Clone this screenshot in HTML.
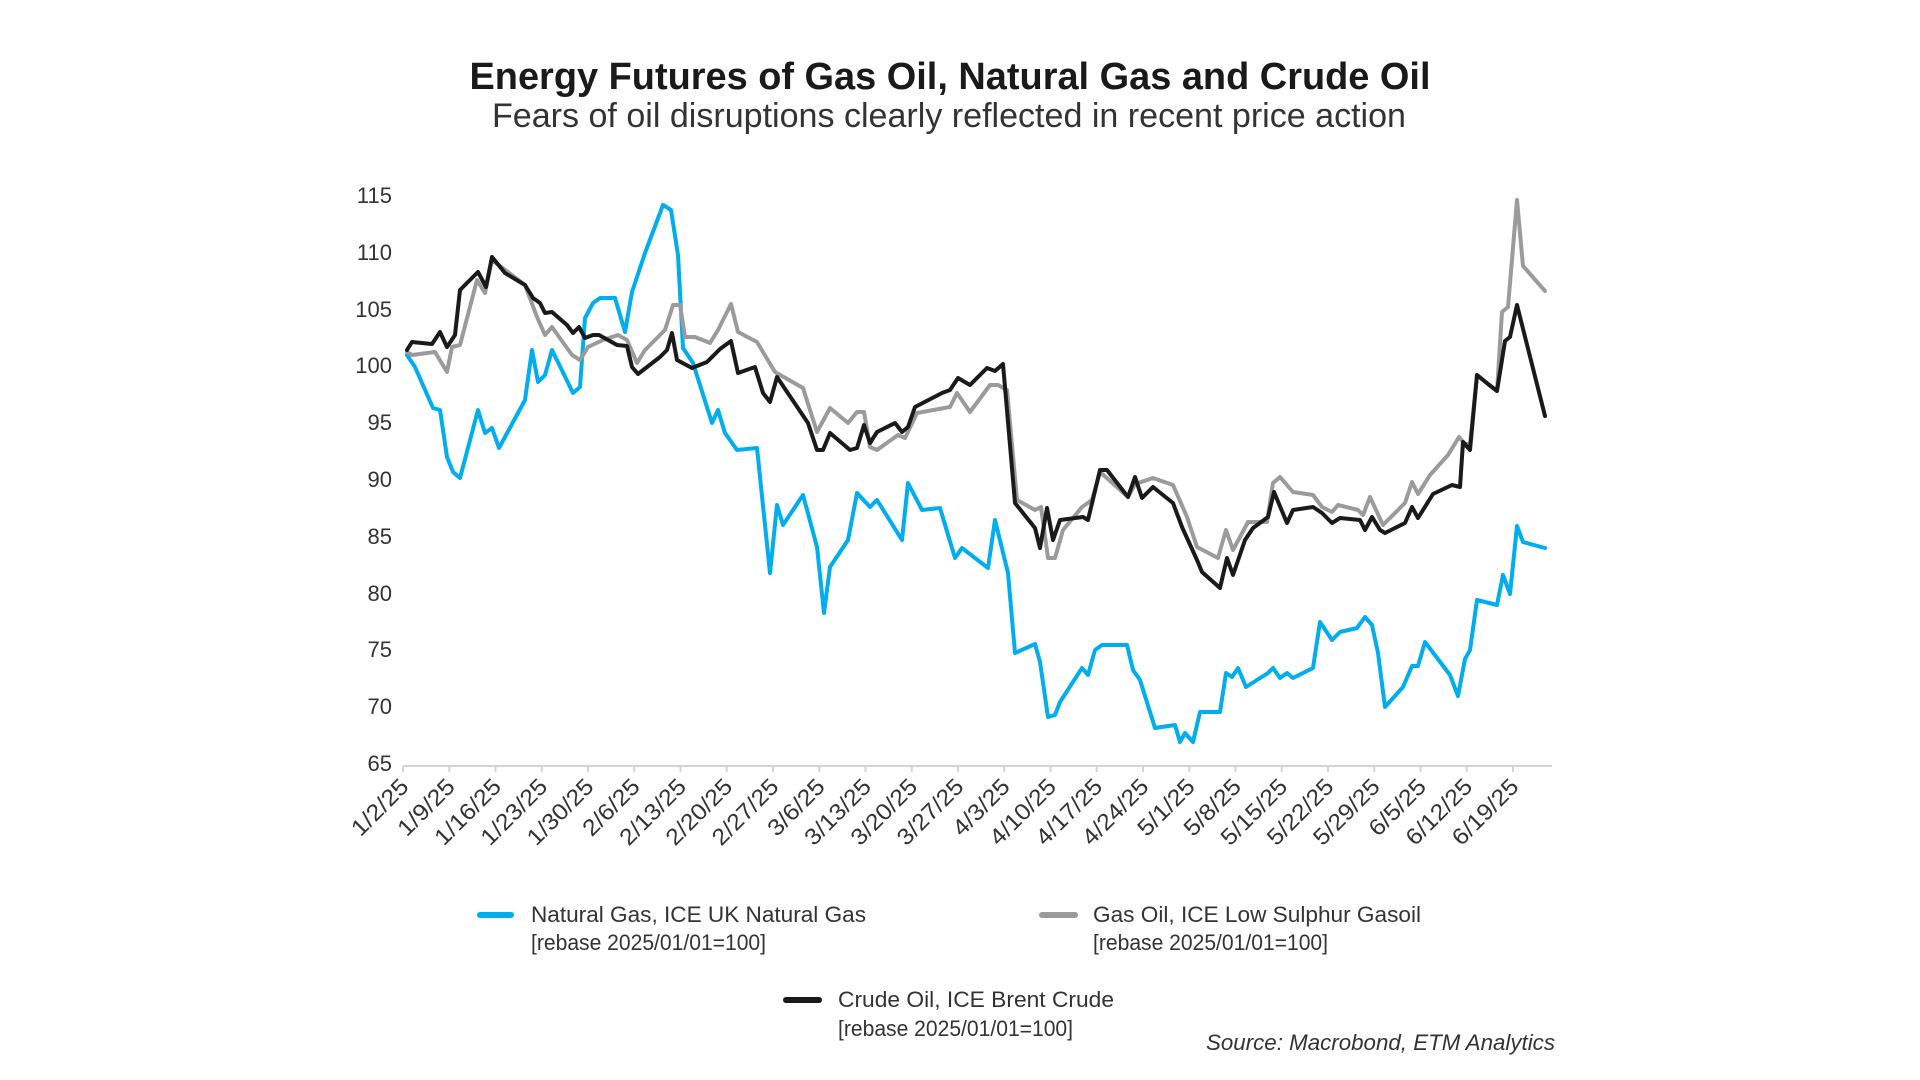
<!DOCTYPE html>
<html>
<head>
<meta charset="utf-8">
<style>
  html,body{margin:0;padding:0;background:#ffffff;}
  svg{display:block;}
  text{font-family:"Liberation Sans", Arial, sans-serif;}
</style>
</head>
<body>
<svg width="1920" height="1080" viewBox="0 0 1920 1080" xmlns="http://www.w3.org/2000/svg">
  <rect x="0" y="0" width="1920" height="1080" fill="#ffffff"/>

  <!-- Title -->
  <text x="950" y="89" text-anchor="middle" font-size="38" font-weight="bold" fill="#1a1a1a" textLength="961" lengthAdjust="spacingAndGlyphs">Energy Futures of Gas Oil, Natural Gas and Crude Oil</text>
  <text x="949" y="127" text-anchor="middle" font-size="34" fill="#333333" textLength="914" lengthAdjust="spacingAndGlyphs">Fears of oil disruptions clearly reflected in recent price action</text>

  <!-- Y axis labels -->
  <g font-size="22" fill="#333333" text-anchor="end">
    <text x="392" y="203">115</text>
    <text x="392" y="260">110</text>
    <text x="392" y="317">105</text>
    <text x="392" y="373">100</text>
    <text x="392" y="430">95</text>
    <text x="392" y="487">90</text>
    <text x="392" y="544">85</text>
    <text x="392" y="601">80</text>
    <text x="392" y="657">75</text>
    <text x="392" y="714">70</text>
    <text x="392" y="771">65</text>
  </g>

  <!-- X axis line and ticks -->
  <line x1="403" y1="766" x2="1552" y2="766" stroke="#d4d4d4" stroke-width="2"/>
  <g stroke="#d4d4d4" stroke-width="2">
    <line x1="403" y1="766" x2="403" y2="772"/>
    <line x1="449.25" y1="766" x2="449.25" y2="772"/>
    <line x1="495.5" y1="766" x2="495.5" y2="772"/>
    <line x1="541.75" y1="766" x2="541.75" y2="772"/>
    <line x1="588" y1="766" x2="588" y2="772"/>
    <line x1="634.25" y1="766" x2="634.25" y2="772"/>
    <line x1="680.5" y1="766" x2="680.5" y2="772"/>
    <line x1="726.75" y1="766" x2="726.75" y2="772"/>
    <line x1="773" y1="766" x2="773" y2="772"/>
    <line x1="819.25" y1="766" x2="819.25" y2="772"/>
    <line x1="865.5" y1="766" x2="865.5" y2="772"/>
    <line x1="911.75" y1="766" x2="911.75" y2="772"/>
    <line x1="958" y1="766" x2="958" y2="772"/>
    <line x1="1004.25" y1="766" x2="1004.25" y2="772"/>
    <line x1="1050.5" y1="766" x2="1050.5" y2="772"/>
    <line x1="1096.75" y1="766" x2="1096.75" y2="772"/>
    <line x1="1143" y1="766" x2="1143" y2="772"/>
    <line x1="1189.25" y1="766" x2="1189.25" y2="772"/>
    <line x1="1235.5" y1="766" x2="1235.5" y2="772"/>
    <line x1="1281.75" y1="766" x2="1281.75" y2="772"/>
    <line x1="1328" y1="766" x2="1328" y2="772"/>
    <line x1="1374.25" y1="766" x2="1374.25" y2="772"/>
    <line x1="1420.5" y1="766" x2="1420.5" y2="772"/>
    <line x1="1466.75" y1="766" x2="1466.75" y2="772"/>
    <line x1="1513" y1="766" x2="1513" y2="772"/>
  </g>

  <!-- X axis labels -->
  <g font-size="23" fill="#333333" text-anchor="end">
    <text transform="translate(410,788) rotate(-45)" textLength="70" lengthAdjust="spacingAndGlyphs">1/2/25</text>
    <text transform="translate(456.25,788) rotate(-45)" textLength="70" lengthAdjust="spacingAndGlyphs">1/9/25</text>
    <text transform="translate(502.5,788) rotate(-45)" textLength="83" lengthAdjust="spacingAndGlyphs">1/16/25</text>
    <text transform="translate(548.75,788) rotate(-45)" textLength="83" lengthAdjust="spacingAndGlyphs">1/23/25</text>
    <text transform="translate(595,788) rotate(-45)" textLength="83" lengthAdjust="spacingAndGlyphs">1/30/25</text>
    <text transform="translate(641.25,788) rotate(-45)" textLength="70" lengthAdjust="spacingAndGlyphs">2/6/25</text>
    <text transform="translate(687.5,788) rotate(-45)" textLength="83" lengthAdjust="spacingAndGlyphs">2/13/25</text>
    <text transform="translate(733.75,788) rotate(-45)" textLength="83" lengthAdjust="spacingAndGlyphs">2/20/25</text>
    <text transform="translate(780,788) rotate(-45)" textLength="83" lengthAdjust="spacingAndGlyphs">2/27/25</text>
    <text transform="translate(826.25,788) rotate(-45)" textLength="70" lengthAdjust="spacingAndGlyphs">3/6/25</text>
    <text transform="translate(872.5,788) rotate(-45)" textLength="83" lengthAdjust="spacingAndGlyphs">3/13/25</text>
    <text transform="translate(918.75,788) rotate(-45)" textLength="83" lengthAdjust="spacingAndGlyphs">3/20/25</text>
    <text transform="translate(965,788) rotate(-45)" textLength="83" lengthAdjust="spacingAndGlyphs">3/27/25</text>
    <text transform="translate(1011.25,788) rotate(-45)" textLength="70" lengthAdjust="spacingAndGlyphs">4/3/25</text>
    <text transform="translate(1057.5,788) rotate(-45)" textLength="83" lengthAdjust="spacingAndGlyphs">4/10/25</text>
    <text transform="translate(1103.75,788) rotate(-45)" textLength="83" lengthAdjust="spacingAndGlyphs">4/17/25</text>
    <text transform="translate(1150,788) rotate(-45)" textLength="83" lengthAdjust="spacingAndGlyphs">4/24/25</text>
    <text transform="translate(1196.25,788) rotate(-45)" textLength="70" lengthAdjust="spacingAndGlyphs">5/1/25</text>
    <text transform="translate(1242.5,788) rotate(-45)" textLength="70" lengthAdjust="spacingAndGlyphs">5/8/25</text>
    <text transform="translate(1288.75,788) rotate(-45)" textLength="83" lengthAdjust="spacingAndGlyphs">5/15/25</text>
    <text transform="translate(1335,788) rotate(-45)" textLength="83" lengthAdjust="spacingAndGlyphs">5/22/25</text>
    <text transform="translate(1381.25,788) rotate(-45)" textLength="83" lengthAdjust="spacingAndGlyphs">5/29/25</text>
    <text transform="translate(1427.5,788) rotate(-45)" textLength="70" lengthAdjust="spacingAndGlyphs">6/5/25</text>
    <text transform="translate(1473.75,788) rotate(-45)" textLength="83" lengthAdjust="spacingAndGlyphs">6/12/25</text>
    <text transform="translate(1520,788) rotate(-45)" textLength="83" lengthAdjust="spacingAndGlyphs">6/19/25</text>
  </g>

  <!-- Natural Gas (blue) -->
  <polyline fill="none" stroke="#00aeef" stroke-width="4" stroke-linejoin="round" stroke-linecap="round" points="
407,355 415,367 433,408 440,410 447,457 453,472 460,478 478,410 485,433 492,428 499,448 525,400 532,350 538,382 545,375 552,350 573,393 580,387 585,318 593,303 600,298 615,298 625,332 632,292 637,277 645,253 663,205 671,210 678,255 683,348 693,363 712,423 718,410 725,433 737,450 757,448 770,573 777,505 783,525 803,495 817,547 824,613 830,567 848,540 857,493 870,507 877,500 902,540 908,483 922,510 940,508 955,558 962,548 988,568 995,520 1008,573 1015,653 1035,644 1040,662 1048,717 1055,715 1060,702 1082,668 1088,675 1095,650 1102,645 1127,645 1133,670 1140,680 1155,728 1175,725 1180,742 1185,733 1193,742 1200,712 1220,712 1226,673 1232,677 1238,668 1246,687 1268,673 1273,668 1280,678 1287,673 1293,678 1313,668 1320,622 1332,640 1340,632 1357,628 1365,617 1372,625 1378,653 1385,707 1403,687 1412,666 1418,666 1425,642 1450,675 1458,696 1465,659 1470,650 1477,600 1497,605 1503,575 1510,594 1517,526 1523,542 1545,548"/>

  <!-- Gas Oil (gray) -->
  <polyline fill="none" stroke="#9b9b9b" stroke-width="4" stroke-linejoin="round" stroke-linecap="round" points="
407,352 412,355 435,352 447,372 452,347 460,345 477,280 485,293 492,260 525,285 537,317 545,335 552,327 572,355 580,360 588,347 603,340 618,335 627,340 637,363 645,350 665,330 673,305 680,305 685,337 695,337 710,343 718,330 731,304 738,332 757,342 775,372 803,388 817,432 830,408 848,423 857,412 864,412 870,447 877,450 898,435 905,438 917,413 950,407 957,393 970,412 990,385 998,385 1007,390 1017,500 1035,510 1041,507 1048,558 1055,558 1063,530 1082,507 1092,500 1100,472 1128,497 1135,484 1153,478 1173,485 1187,517 1197,547 1218,558 1226,530 1233,550 1248,522 1267,522 1273,483 1280,477 1293,492 1313,495 1322,507 1332,512 1338,505 1358,510 1363,515 1370,497 1383,525 1405,503 1412,482 1418,494 1430,475 1448,455 1459,437 1465,444 1470,444 1477,375 1488,384 1497,391 1502,312 1508,307 1517,200 1523,266 1545,291"/>

  <!-- Crude Oil (black) -->
  <polyline fill="none" stroke="#1a1a1a" stroke-width="4" stroke-linejoin="round" stroke-linecap="round" points="
407,350 412,342 432,344 440,332 447,347 455,335 460,290 478,272 486,287 492,257 505,273 525,285 533,298 540,303 545,313 552,312 567,325 573,333 579,327 585,338 593,335 599,335 617,345 627,346 632,367 638,374 660,357 667,350 672,333 677,360 692,368 707,362 720,349 731,341 738,373 755,367 763,393 770,402 777,377 808,423 817,450 823,450 830,433 850,450 857,448 864,425 870,443 877,432 895,423 902,432 908,427 915,407 942,393 950,390 958,378 970,385 987,368 995,371 1003,364 1015,503 1035,528 1040,548 1047,508 1053,540 1060,520 1083,517 1088,520 1100,470 1107,470 1128,497 1135,477 1142,498 1153,487 1173,503 1182,527 1197,560 1202,572 1220,588 1227,558 1233,575 1245,540 1253,528 1268,517 1274,492 1287,523 1293,510 1313,507 1322,513 1332,523 1340,518 1360,520 1365,530 1372,517 1380,530 1385,533 1405,523 1412,507 1418,518 1433,494 1452,485 1460,487 1463,442 1470,450 1477,375 1488,384 1497,391 1505,341 1510,337 1517,305 1545,416"/>

  <!-- Legend -->
  <line x1="480" y1="915" x2="511" y2="915" stroke="#00aeef" stroke-width="6" stroke-linecap="round"/>
  <text x="531" y="922" font-size="22.5" fill="#333333" textLength="335" lengthAdjust="spacingAndGlyphs">Natural Gas, ICE UK Natural Gas</text>
  <text x="531" y="950" font-size="22.5" fill="#333333" textLength="235" lengthAdjust="spacingAndGlyphs">[rebase 2025/01/01=100]</text>

  <line x1="1042" y1="915" x2="1075" y2="915" stroke="#9b9b9b" stroke-width="6" stroke-linecap="round"/>
  <text x="1093" y="922" font-size="22.5" fill="#333333" textLength="328" lengthAdjust="spacingAndGlyphs">Gas Oil, ICE Low Sulphur Gasoil</text>
  <text x="1093" y="950" font-size="22.5" fill="#333333" textLength="235" lengthAdjust="spacingAndGlyphs">[rebase 2025/01/01=100]</text>

  <line x1="786" y1="1000" x2="819" y2="1000" stroke="#1a1a1a" stroke-width="6" stroke-linecap="round"/>
  <text x="838" y="1007" font-size="22.5" fill="#333333" textLength="276" lengthAdjust="spacingAndGlyphs">Crude Oil, ICE Brent Crude</text>
  <text x="838" y="1036" font-size="22.5" fill="#333333" textLength="235" lengthAdjust="spacingAndGlyphs">[rebase 2025/01/01=100]</text>

  <text x="1555" y="1050" font-size="22.5" font-style="italic" fill="#333333" text-anchor="end" textLength="349" lengthAdjust="spacingAndGlyphs">Source: Macrobond, ETM Analytics</text>
</svg>
</body>
</html>
